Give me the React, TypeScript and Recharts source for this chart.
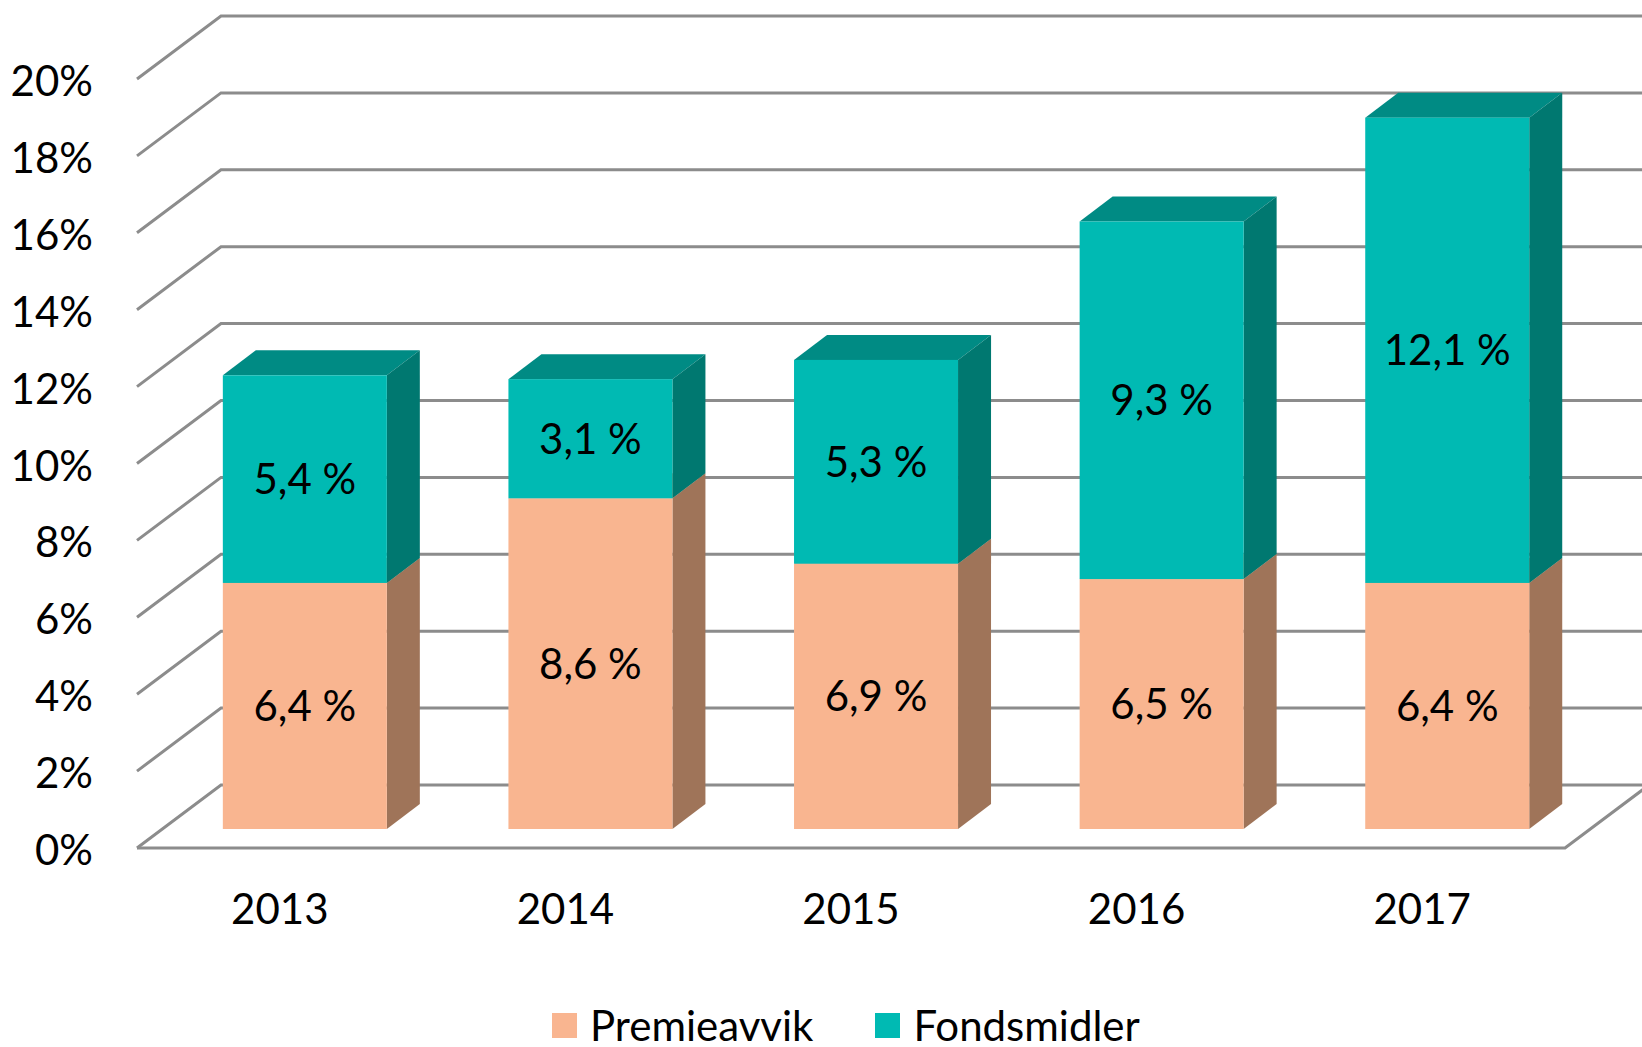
import React from 'react';
import { BarChart, Bar, XAxis, YAxis, CartesianGrid, Legend, LabelList, ReferenceLine } from 'recharts';

const years = ['2013', '2014', '2015', '2016', '2017'];
const premieavvik = [6.4, 8.6, 6.9, 6.5, 6.4];
const fondsmidler = [5.4, 3.1, 5.3, 9.3, 12.1];
const yTicks = [0, 2, 4, 6, 8, 10, 12, 14, 16, 18, 20];
const seriesOrder = ['Premieavvik', 'Fondsmidler'];

const data = years.map((year, i) => ({
  year,
  premieavvik: premieavvik[i],
  fondsmidler: fondsmidler[i],
}));

const FONT = 'Lato, "Open Sans", sans-serif';
const GRID = '#8c8c8c';

// depth of a bar (front face -> back face)
const DX = 33;
const DY = -25;
// floor front edge and back wall, relative to the plane of the bar fronts
const FRONT_X = -25;
const FRONT_Y = 19;
const BACK_X = 59;
const BACK_Y = -44;

const colors = {
  premieavvik: { front: '#f9b590', top: '#dc9c79', side: '#9f7459' },
  fondsmidler: { front: '#00bab3', top: '#008b84', side: '#007870' },
};

const fmt = (v: number) => v.toFixed(1).replace('.', ',') + ' %';

const box = (c: { front: string; top: string; side: string }) => (props: any) => {
  const { x, y, width: w, height: h } = props;
  if (!h || !w) return <g />;
  return (
    <g>
      <polygon points={`${x},${y} ${x + w},${y} ${x + w + DX},${y + DY} ${x + DX},${y + DY}`} fill={c.top} />
      <polygon
        points={`${x + w},${y} ${x + w + DX},${y + DY} ${x + w + DX},${y + h + DY} ${x + w},${y + h}`}
        fill={c.side}
      />
      <rect x={x} y={y} width={w} height={h} fill={c.front} />
    </g>
  );
};

// gridline: diagonal on the side wall, then across the back wall
const wallLine = (p: any) => {
  const { x1, x2, y1 } = p;
  return (
    <polyline
      key={p.key}
      points={`${x1 + FRONT_X},${y1 + FRONT_Y} ${x1 + BACK_X},${y1 + BACK_Y} ${x2 + BACK_X + 20},${y1 + BACK_Y}`}
      fill="none"
      stroke={GRID}
      strokeWidth={3}
    />
  );
};

const floorEdge = (p: any) => {
  const { x1, x2, y1 } = p;
  return (
    <polyline
      points={`${x1 + FRONT_X},${y1 + FRONT_Y} ${x2 + FRONT_X},${y1 + FRONT_Y} ${x2 + BACK_X},${y1 + BACK_Y}`}
      fill="none"
      stroke={GRID}
      strokeWidth={3}
    />
  );
};

const YTick = ({ x, y, payload }: any) => (
  <text x={x - 69} y={y + FRONT_Y + 17} textAnchor="end" fontFamily={FONT} fontSize={42} fill="#000">
    {payload.value}%
  </text>
);

const XTick = ({ x, y, payload }: any) => (
  <text x={x + FRONT_X} y={y + 95} textAnchor="middle" fontFamily={FONT} fontSize={42} fill="#000">
    {payload.value}
  </text>
);

const ValueLabel = (props: any) => {
  const vb = props.viewBox || props;
  const { x, y, width, height } = vb;
  if (props.value == null) return null;
  return (
    <text x={x + width / 2} y={y + height / 2 + 15} textAnchor="middle" fontFamily={FONT} fontSize={42} fill="#000">
      {fmt(props.value)}
    </text>
  );
};

const LegendContent = ({ payload }: any) => {
  const items = [...(payload || [])].sort(
    (a: any, b: any) => seriesOrder.indexOf(a.value) - seriesOrder.indexOf(b.value)
  );
  return (
    <div
      style={{
        display: 'flex',
        alignItems: 'center',
        height: 37,
        fontFamily: FONT,
        fontSize: 42,
        lineHeight: '37px',
        color: '#000',
      }}
    >
      {items.map((p: any) => (
        <div key={p.value} style={{ display: 'flex', alignItems: 'center', marginRight: 62 }}>
          <span style={{ display: 'inline-block', width: 25, height: 25, background: p.color, marginRight: 13 }} />
          <span>{p.value}</span>
        </div>
      ))}
    </div>
  );
};

export default function App() {
  return (
    <div style={{ position: 'absolute', left: 0, top: 0, background: '#fff' }}>
      <BarChart
        width={1642}
        height={1047}
        data={data}
        margin={{ top: 60, right: 52, left: 0, bottom: 0 }}
        barCategoryGap="21.3%"
      >
        <CartesianGrid vertical={false} horizontal={wallLine} />
        <ReferenceLine y={0} shape={floorEdge} />
        <XAxis
          dataKey="year"
          height={181}
          axisLine={false}
          tickLine={false}
          tickSize={0}
          tickMargin={0}
          interval={0}
          tick={XTick}
        />
        <YAxis
          domain={[0, 20]}
          ticks={yTicks}
          width={162}
          axisLine={false}
          tickLine={false}
          tickSize={0}
          tickMargin={0}
          interval={0}
          tick={YTick}
        />
        <Legend
          verticalAlign="bottom"
          content={LegendContent}
          wrapperStyle={{ left: 552, width: 720, bottom: 3 }}
        />
        <Bar
          dataKey="premieavvik"
          name="Premieavvik"
          stackId="a"
          fill={colors.premieavvik.front}
          shape={box(colors.premieavvik)}
          isAnimationActive={false}
        >
          <LabelList dataKey="premieavvik" position="center" content={ValueLabel} />
        </Bar>
        <Bar
          dataKey="fondsmidler"
          name="Fondsmidler"
          stackId="a"
          fill={colors.fondsmidler.front}
          shape={box(colors.fondsmidler)}
          isAnimationActive={false}
        >
          <LabelList dataKey="fondsmidler" position="center" content={ValueLabel} />
        </Bar>
      </BarChart>
    </div>
  );
}
